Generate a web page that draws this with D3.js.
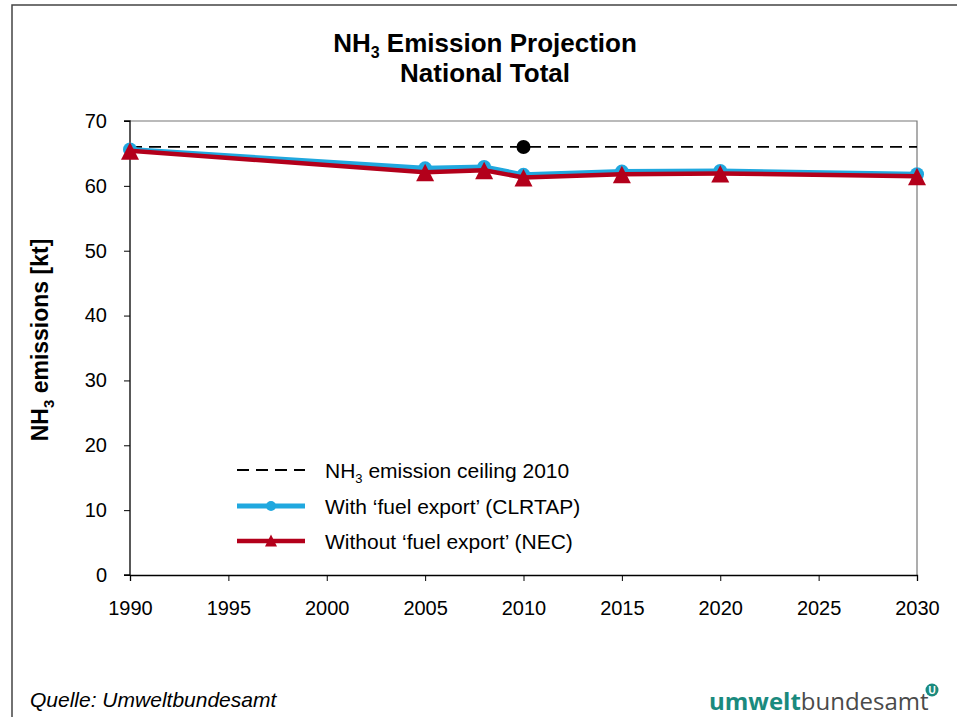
<!DOCTYPE html>
<html>
<head>
<meta charset="utf-8">
<script src="https://cdn.jsdelivr.net/npm/d3@7"></script>
<style>
  html, body { margin: 0; padding: 0; background: #fff; }
  svg { display: block; }
  text { font-family: "Liberation Sans", Arial, sans-serif; }
</style>
</head>
<body>
<svg id="chart" width="957" height="717"></svg>
<script>
// NH3 emissions (kt), national total
const years = [1990, 2005, 2008, 2010, 2015, 2020, 2030];
const withFuelExport = [65.6, 62.7, 62.9, 61.7, 62.2, 62.3, 61.8];
const withoutFuelExport = [65.4, 62.1, 62.4, 61.3, 61.8, 61.9, 61.5];
const ceilingYear = 2010;
const ceilingValue = 66;
const xTicks = [1990, 1995, 2000, 2005, 2010, 2015, 2020, 2025, 2030];
const yTicks = [0, 10, 20, 30, 40, 50, 60, 70];

const svg = d3.select("#chart");
const W = 957, H = 717;
const m = { left: 130, right: 917, top: 121, bottom: 575 };

// outer frame
svg.append("path")
  .attr("d", `M12,${H + 2} V5 H${W + 2}`)
  .attr("fill", "none").attr("stroke", "#444").attr("stroke-width", 1.5);

const x = d3.scaleLinear().domain([1990, 2030]).range([m.left, m.right]);
const y = d3.scaleLinear().domain([0, 70]).range([m.bottom, m.top]);

// plot area box (top and right)
svg.append("path")
  .attr("d", `M${m.left},${m.top} H${m.right} V${m.bottom}`)
  .attr("fill", "none").attr("stroke", "#777").attr("stroke-width", 1.2);

// axes
const yAxis = svg.append("g").attr("transform", `translate(${m.left},0)`)
  .call(d3.axisLeft(y).tickValues(yTicks).tickSize(6).tickPadding(17).tickFormat(d3.format("d")));
const xAxis = svg.append("g").attr("transform", `translate(0,${m.bottom})`)
  .call(d3.axisBottom(x).tickValues(xTicks).tickSize(6).tickPadding(20).tickFormat(d3.format("d")));
[yAxis, xAxis].forEach(g => {
  g.select(".domain").attr("stroke", "#000").attr("stroke-width", 1.3);
  g.selectAll(".tick line").attr("stroke", "#000");
  g.selectAll(".tick text").attr("fill", "#000").style("font-size", "20px")
    .style("font-family", "'Liberation Sans', Arial, sans-serif");
});
yAxis.select(".domain").attr("d", `M-6,${m.bottom}H0V${m.top}H-6`);

// emission ceiling
const dash = "12,7";
svg.append("line")
  .attr("x1", x(1990)).attr("x2", x(2030))
  .attr("y1", y(ceilingValue)).attr("y2", y(ceilingValue))
  .attr("stroke", "#000").attr("stroke-width", 1.8).attr("stroke-dasharray", dash);
svg.append("circle")
  .attr("cx", x(ceilingYear)).attr("cy", y(ceilingValue)).attr("r", 7).attr("fill", "#000");

const blue = "#20a8df", red = "#b3001b";
const line = d3.line().x(d => x(d[0])).y(d => y(d[1]));
const blueData = years.map((yr, i) => [yr, withFuelExport[i]]);
const redData = years.map((yr, i) => [yr, withoutFuelExport[i]]);

function triangle(cx, cy, hw, up, down) {
  return `M${cx},${cy - up} L${cx + hw},${cy + down} L${cx - hw},${cy + down} Z`;
}

svg.append("path").datum(blueData).attr("d", line)
  .attr("fill", "none").attr("stroke", blue).attr("stroke-width", 5).attr("stroke-linejoin", "round");
svg.selectAll("circle.blue").data(blueData).enter().append("circle").attr("class", "blue")
  .attr("cx", d => x(d[0])).attr("cy", d => y(d[1])).attr("r", 7).attr("fill", blue);

svg.append("path").datum(redData).attr("d", line)
  .attr("fill", "none").attr("stroke", red).attr("stroke-width", 4.5).attr("stroke-linejoin", "round");
svg.selectAll("path.tri").data(redData).enter().append("path").attr("class", "tri")
  .attr("d", d => triangle(x(d[0]), y(d[1]), 9, 8.5, 9)).attr("fill", red);

// legend
const lg = svg.append("g");
const lx0 = 237, lx1 = 305, tx = 325;
const rows = [470, 506, 541];
const fs = "21px";
lg.append("line").attr("x1", lx0).attr("x2", lx1).attr("y1", rows[0]).attr("y2", rows[0])
  .attr("stroke", "#000").attr("stroke-width", 1.8).attr("stroke-dasharray", dash);
lg.append("line").attr("x1", lx0).attr("x2", lx1).attr("y1", rows[1]).attr("y2", rows[1])
  .attr("stroke", blue).attr("stroke-width", 5);
lg.append("circle").attr("cx", (lx0 + lx1) / 2).attr("cy", rows[1]).attr("r", 5).attr("fill", blue);
lg.append("line").attr("x1", lx0).attr("x2", lx1).attr("y1", rows[2]).attr("y2", rows[2])
  .attr("stroke", red).attr("stroke-width", 4.5);
lg.append("path").attr("d", triangle((lx0 + lx1) / 2, rows[2], 6, 6.5, 5.5)).attr("fill", red);

const lt1 = lg.append("text").attr("x", tx).attr("y", rows[0] + 7.5).style("font-size", fs).attr("fill", "#000");
lt1.append("tspan").text("NH");
lt1.append("tspan").text("3").attr("dy", 5).style("font-size", "13px");
lt1.append("tspan").text(" emission ceiling 2010").attr("dy", -5);
lg.append("text").attr("x", tx).attr("y", rows[1] + 7.5).style("font-size", fs).attr("fill", "#000")
  .text("With \u2018fuel export\u2019 (CLRTAP)");
lg.append("text").attr("x", tx).attr("y", rows[2] + 7.5).style("font-size", fs).attr("fill", "#000")
  .text("Without \u2018fuel export\u2019 (NEC)");

// title
const t1 = svg.append("text").attr("x", 485).attr("y", 52).attr("text-anchor", "middle")
  .style("font-size", "26px").style("font-weight", "bold").attr("fill", "#000");
t1.append("tspan").text("NH");
t1.append("tspan").text("3").attr("dy", 6).style("font-size", "16px");
t1.append("tspan").text(" Emission Projection").attr("dy", -6);
svg.append("text").attr("x", 485).attr("y", 82).attr("text-anchor", "middle")
  .style("font-size", "26px").style("font-weight", "bold").attr("fill", "#000").text("National Total");

// y axis title
const yt = svg.append("text").attr("transform", "translate(48,340) rotate(-90)").attr("text-anchor", "middle")
  .style("font-size", "23px").style("font-weight", "bold").attr("fill", "#000");
yt.append("tspan").text("NH");
yt.append("tspan").text("3").attr("dy", 6).style("font-size", "15px");
yt.append("tspan").text(" emissions [kt]").attr("dy", -6);

// source
svg.append("text").attr("x", 30).attr("y", 707).style("font-size", "21px").style("font-style", "italic")
  .attr("fill", "#000").text("Quelle: Umweltbundesamt");

// logo
const logo = svg.append("text").attr("x", 709).attr("y", 710).style("font-size", "24px")
  .style("font-family", "'Open Sans', 'DejaVu Sans', sans-serif");
logo.append("tspan").text("umwelt").style("font-weight", "bold").attr("fill", "#1a8a7e");
logo.append("tspan").text("bundesamt").attr("fill", "#4a4a4a");
svg.append("circle").attr("cx", 932).attr("cy", 690).attr("r", 6.5).attr("fill", "#1a8a7e");
svg.append("text").attr("x", 932).attr("y", 694).attr("text-anchor", "middle")
  .style("font-size", "10px").style("font-weight", "bold").attr("fill", "#fff").text("U");
</script>
</body>
</html>
